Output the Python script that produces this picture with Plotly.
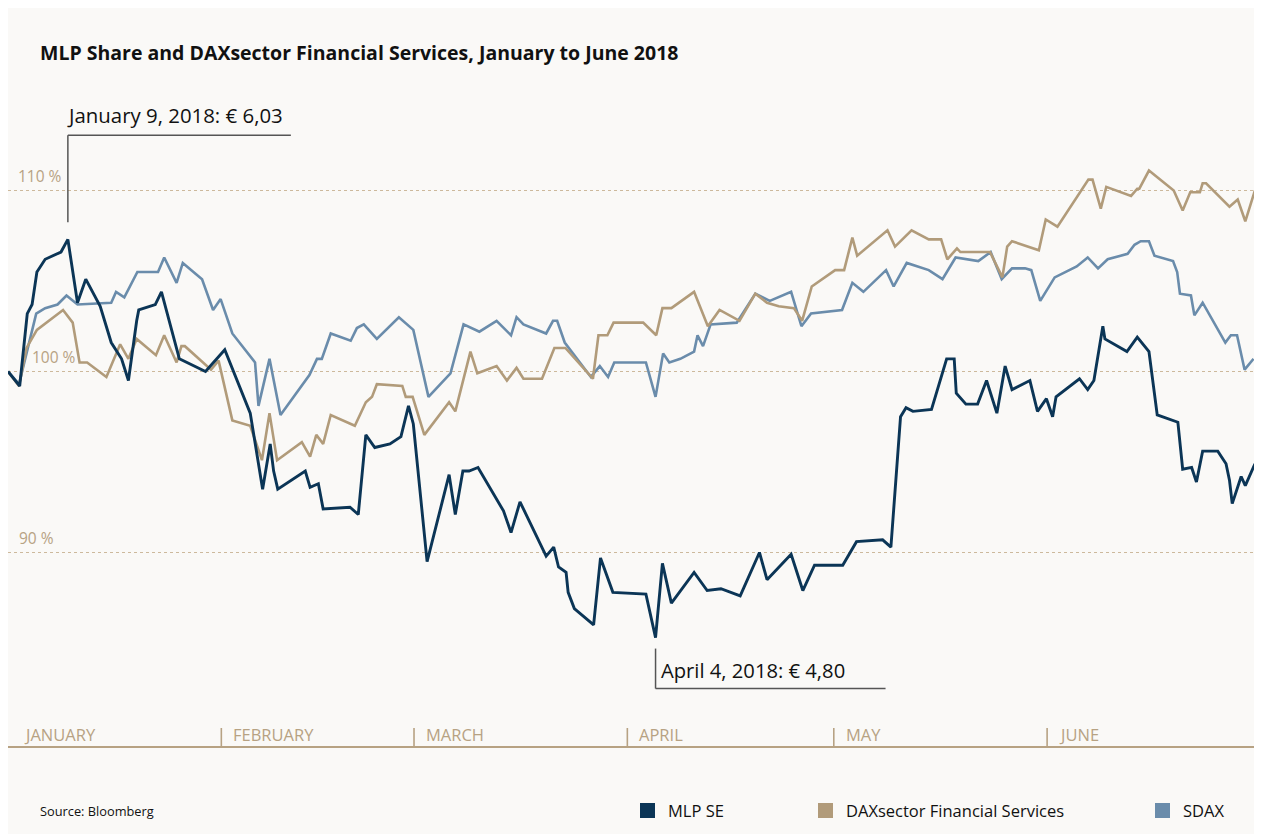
import plotly.graph_objects as go
import numpy as np

# ---------------- data (x = days since Jan 1 2018, y = % of Jan 1 level) ----------------
mlp_x = [0, 1.7, 2.8, 3.5, 4.2, 5.4, 7.7, 8.7, 10.1, 11.3, 13.4, 15.0, 16.5, 17.5, 18.7, 19.0,
         21.4, 22.3, 24.9, 28.7, 31.5, 35.2, 37.0, 38.1, 38.6, 39.2, 43.2, 43.9, 45.1, 45.8,
         49.7, 50.9, 52.0, 53.3, 55.5, 57.1, 58.2, 58.9, 60.9, 64.1, 65.0, 66.1, 67.0, 68.3,
         72.0, 73.1, 74.4, 78.2, 79.3, 80.0, 81.1, 81.4, 82.3, 85.1, 86.1, 87.9, 92.7, 94.1,
         95.1, 96.4, 99.7, 101.6, 103.6, 106.4, 109.2, 110.3, 113.8, 115.5, 117.2, 121.3,
         123.3, 127.1, 128.3, 129.7, 130.5, 131.5, 134.2, 136.4, 137.5, 137.8, 139.2, 140.9,
         142.2, 143.7, 144.9, 145.9, 148.5, 149.6, 150.9, 151.8, 152.3, 155.7, 156.9, 157.8,
         159.1, 159.4, 162.6, 164.1, 165.8, 167.0, 170.0, 170.7, 172.0, 172.7, 173.6, 175.8,
         177.0, 177.5, 177.9, 179.2, 179.8, 181.2]
mlp_y = [100.0, 99.2, 103.2, 103.7, 105.5, 106.2, 106.6, 107.3, 103.8, 105.1, 103.6, 101.6,
         100.7, 99.5, 102.8, 103.4, 103.7, 104.4, 100.7, 100.0, 101.2, 97.7, 93.5, 96.0, 94.5,
         93.5, 94.5, 93.6, 93.8, 92.4, 92.5, 92.1, 96.5, 95.8, 96.0, 96.4, 98.1, 97.1, 89.5,
         94.3, 92.1, 94.5, 94.5, 94.7, 92.3, 91.1, 92.8, 89.8, 90.3, 89.2, 88.9, 87.8, 86.9,
         86.0, 89.7, 87.8, 87.7, 85.3, 89.4, 87.2, 88.9, 87.9, 88.0, 87.6, 90.0, 88.5, 89.9,
         87.9, 89.3, 89.3, 90.6, 90.7, 90.3, 97.5, 98.0, 97.8, 97.9, 100.7, 100.7, 98.8, 98.2,
         98.2, 99.5, 97.7, 100.3, 99.0, 99.5, 97.8, 98.5, 97.5, 98.6, 99.6, 99.0, 99.5, 102.5,
         101.8, 101.1, 101.9, 101.1, 97.6, 97.2, 94.6, 94.7, 93.9, 95.6, 95.6, 94.9, 94.0,
         92.7, 94.2, 93.7, 94.9]

dax_x = [0, 1.6, 2.7, 4.2, 8.0, 9.4, 10.4, 11.5, 14.3, 16.3, 17.5, 18.7, 21.5, 22.7, 24.5,
         25.2, 25.7, 29.5, 30.6, 32.6, 35.2, 36.9, 38.0, 39.1, 42.7, 43.9, 44.8, 45.8, 46.9,
         50.4, 52.0, 52.9, 53.6, 57.3, 57.8, 58.8, 60.5, 64.1, 65.0, 67.2, 68.2, 71.0, 72.5,
         73.9, 74.9, 77.6, 79.4, 81.0, 85.0, 85.8, 87.1, 88.0, 92.3, 94.2, 95.1, 96.4, 99.7,
         101.7, 103.4, 106.3, 108.6, 110.3, 112.0, 114.2, 115.4, 116.8, 120.2, 121.5, 122.7,
         123.4, 127.8, 128.9, 131.3, 133.8, 135.6, 136.5, 137.9, 138.4, 142.7, 144.5, 145.2,
         145.9, 149.8, 150.8, 152.5, 157.0, 157.6, 158.8, 159.6, 163.2, 164.1, 164.4, 165.8,
         169.4, 170.7, 171.8, 173.2, 173.6, 174.1, 177.5, 178.7, 179.8, 181.2]
dax_y = [100.0, 99.2, 101.3, 102.3, 103.4, 102.7, 100.5, 100.5, 99.7, 101.5, 100.7, 101.8,
         100.9, 102.0, 100.5, 101.4, 101.4, 100.1, 100.6, 97.3, 97.0, 95.1, 97.7, 95.1, 96.1,
         95.3, 96.5, 96.0, 97.6, 97.0, 98.3, 98.6, 99.3, 99.2, 98.6, 98.6, 96.5, 98.3, 97.8,
         101.1, 99.9, 100.3, 99.5, 100.2, 99.6, 99.6, 101.3, 101.3, 99.6, 102.0, 102.0, 102.7,
         102.7, 102.0, 103.5, 103.5, 104.4, 102.5, 103.4, 102.8, 104.3, 103.8, 103.6, 103.5,
         102.8, 104.7, 105.6, 105.6, 107.4, 106.4, 107.8, 106.9, 107.8, 107.3, 107.3, 106.2,
         106.8, 106.6, 106.6, 105.2, 106.9, 107.2, 106.7, 108.4, 108.0, 110.6, 110.6, 109.0,
         110.2, 109.7, 110.1, 110.1, 111.1, 110.0, 108.9, 109.9, 109.9, 110.4, 110.4, 109.1,
         109.5, 108.3, 110.0]

sdax_x = [0, 1.6, 4.1, 5.4, 7.2, 8.5, 10.1, 15.0, 15.7, 16.9, 18.8, 21.8, 22.7, 24.5, 25.4,
          28.2, 29.8, 30.9, 32.6, 35.9, 36.4, 38.0, 39.6, 43.8, 44.9, 45.6, 46.9, 49.8, 50.7,
          51.7, 53.6, 56.8, 58.9, 61.1, 64.3, 66.2, 68.5, 71.0, 73.1, 73.9, 74.9, 78.2, 79.2,
          79.8, 80.9, 84.7, 86.0, 87.2, 88.1, 92.7, 94.1, 95.2, 96.1, 97.7, 99.7, 100.2, 101.0,
          102.1, 105.9, 108.6, 110.7, 113.8, 115.3, 116.7, 121.2, 122.7, 124.3, 127.6, 128.7,
          130.6, 133.8, 135.8, 137.7, 141.0, 142.8, 144.4, 145.9, 147.8, 148.7, 150.0, 152.1,
          155.3, 156.9, 158.4, 159.8, 162.7, 163.7, 164.6, 165.8, 166.6, 169.3, 169.9, 170.3,
          171.9, 172.4, 173.6, 176.9, 177.7, 178.6, 179.7, 181.0]
sdax_y = [100.0, 99.3, 103.2, 103.5, 103.7, 104.2, 103.7, 103.8, 104.4, 104.1, 105.5, 105.5,
          106.3, 104.9, 106.0, 105.1, 103.4, 104.0, 102.1, 100.5, 98.1, 100.7, 97.6, 99.8,
          100.7, 100.7, 102.1, 101.7, 102.4, 102.6, 101.8, 103.0, 102.3, 98.6, 99.9, 102.6,
          102.2, 102.8, 102.0, 103.0, 102.6, 102.1, 102.8, 102.8, 101.6, 99.7, 100.3, 99.7,
          100.5, 100.5, 98.6, 101.0, 100.5, 100.7, 101.1, 102.0, 101.4, 102.6, 102.7, 104.3,
          103.9, 104.4, 102.5, 103.2, 103.4, 104.9, 104.4, 105.6, 104.7, 106.0, 105.6, 105.1,
          106.3, 106.1, 106.6, 105.1, 105.7, 105.7, 105.6, 103.9, 105.2, 105.8, 106.3, 105.7,
          106.2, 106.5, 107.0, 107.2, 107.2, 106.4, 106.1, 105.5, 104.3, 104.2, 103.1, 103.8,
          101.6, 102.0, 102.0, 100.1, 100.7]

month_names = ["JANUARY", "FEBRUARY", "MARCH", "APRIL", "MAY", "JUNE"]
month_starts = [0, 31, 59, 90, 120, 151]
grid_values = [90, 100, 110]
grid_labels = ["90 %", "100 %", "110 %"]
series_names = ["MLP SE", "DAXsector Financial Services", "SDAX"]
high_label = "January 9, 2018: € 6,03"
low_label = "April 4, 2018: € 4,80"

# ---------------- styling ----------------
C_MLP = "#0b3556"
C_DAX = "#b19b7a"
C_SDAX = "#6a8cab"
C_TAN = "#b7a283"
C_GRID = "#cdb99c"
C_BG = "#faf9f7"
C_LINE = "#555555"
FONT = "Open Sans"

OFF = 8                      # page body margin (screen px)
W, H = 1254, 826
L, R, T, B = 0, 5, 92, 88
PW, PH = W - L - R, H - T - B
X_MAX = 181.5
Y_MIN, Y_MAX = 79.31, 115.0


def px(xs):
    """screen x -> paper x"""
    return (xs - OFF - L) / PW


def py(ys):
    """screen y -> paper y"""
    return (H - B - (ys - OFF)) / PH


fig = go.Figure()
for name, xs, ys, col, w in [(series_names[2], sdax_x, sdax_y, C_SDAX, 2.6),
                             (series_names[1], dax_x, dax_y, C_DAX, 2.6),
                             (series_names[0], mlp_x, mlp_y, C_MLP, 2.9)]:
    fig.add_trace(go.Scatter(x=xs, y=ys, mode="lines", name=name,
                             line=dict(color=col, width=w), showlegend=False))

shapes = []
annotations = []

# month ticks + labels
for i, (m, d) in enumerate(zip(month_names, month_starts)):
    if i > 0:
        shapes.append(dict(type="line", xref="x", yref="paper", x0=d, x1=d,
                           y0=0, y1=18 / PH, line=dict(color=C_TAN, width=1.6)))
    annotations.append(dict(x=d, y=py(734), xref="x", yref="paper", text=m,
                            showarrow=False, xanchor="left", yanchor="middle",
                            xshift=14 if i == 0 else 10,
                            font=dict(family=FONT, size=16.5, color=C_TAN)))

# grid value labels
label_left = {90: 17, 100: 30, 110: 16}
for v, t in zip(grid_values, grid_labels):
    annotations.append(dict(x=px(label_left[v]), y=v, xref="paper", yref="y", text=t,
                            showarrow=False, xanchor="left", yanchor="bottom", yshift=2,
                            font=dict(family=FONT, size=15.5, color=C_TAN)))

# high / low callouts
i_hi = int(np.argmax(mlp_y))
i_lo = int(np.argmin(mlp_y))
hx, hy = mlp_x[i_hi], mlp_y[i_hi]
lx, ly = mlp_x[i_lo], mlp_y[i_lo]
per_px = (Y_MAX - Y_MIN) / PH
day_px = X_MAX / PW
shapes.append(dict(type="line", xref="x", yref="y", x0=hx, x1=hx,
                   y0=hy + 17 * per_px, y1=hy + 104 * per_px, line=dict(color=C_LINE, width=1.5)))
shapes.append(dict(type="line", xref="x", yref="y", x0=hx, x1=hx + 223 * day_px,
                   y0=hy + 104 * per_px, y1=hy + 104 * per_px, line=dict(color=C_LINE, width=1.5)))
annotations.append(dict(x=hx, y=hy + 104 * per_px, xref="x", yref="y", text=high_label,
                        showarrow=False, xanchor="left", yanchor="bottom", xshift=-3, yshift=4,
                        font=dict(family=FONT, size=20.4, color="#111111")))
shapes.append(dict(type="line", xref="x", yref="y", x0=lx, x1=lx,
                   y0=ly - 11 * per_px, y1=ly - 51 * per_px, line=dict(color=C_LINE, width=1.5)))
shapes.append(dict(type="line", xref="x", yref="y", x0=lx, x1=lx + 230 * day_px,
                   y0=ly - 51 * per_px, y1=ly - 51 * per_px, line=dict(color=C_LINE, width=1.5)))
annotations.append(dict(x=lx, y=ly - 51 * per_px, xref="x", yref="y", text=low_label,
                        showarrow=False, xanchor="left", yanchor="bottom", xshift=3, yshift=3,
                        font=dict(family=FONT, size=20.2, color="#111111")))

# title
annotations.append(dict(x=px(38), y=py(52), xref="paper", yref="paper",
                        text="<b>MLP Share and DAXsector Financial Services, January to June 2018</b>",
                        showarrow=False, xanchor="left", yanchor="middle",
                        font=dict(family=FONT, size=19.5, color="#111111")))
# source
annotations.append(dict(x=px(38), y=py(811), xref="paper", yref="paper", text="Source: Bloomberg",
                        showarrow=False, xanchor="left", yanchor="middle",
                        font=dict(family=FONT, size=12.8, color="#111111")))

# legend (manual)
leg_pos = [640, 818, 1155]
for name, col, xl in zip(series_names, [C_MLP, C_DAX, C_SDAX], leg_pos):
    shapes.append(dict(type="rect", xref="paper", yref="paper", x0=px(xl), x1=px(xl + 15),
                       y0=py(818), y1=py(803), fillcolor=col, line=dict(width=0)))
    annotations.append(dict(x=px(xl + 26), y=py(810.5), xref="paper", yref="paper", text=name,
                            showarrow=False, xanchor="left", yanchor="middle",
                            font=dict(family=FONT, size=16.5, color="#111111")))

fig.update_layout(
    width=W, height=H,
    margin=dict(l=L, r=R, t=T, b=B),
    paper_bgcolor=C_BG, plot_bgcolor="rgba(0,0,0,0)",
    shapes=shapes, annotations=annotations,
    xaxis=dict(range=[0, X_MAX], showgrid=False, zeroline=False, showticklabels=False,
               ticks="", showline=True, linecolor=C_TAN, linewidth=2, fixedrange=True),
    yaxis=dict(range=[Y_MIN, Y_MAX], tickvals=grid_values, showticklabels=False,
               showgrid=True, gridcolor=C_GRID, griddash="dot", gridwidth=1,
               zeroline=False, showline=False, ticks="", fixedrange=True),
    showlegend=False,
)
fig.write_html("out.html",
               post_script="document.documentElement.style.overflow='hidden';"
                           "document.body.style.overflow='hidden';")
